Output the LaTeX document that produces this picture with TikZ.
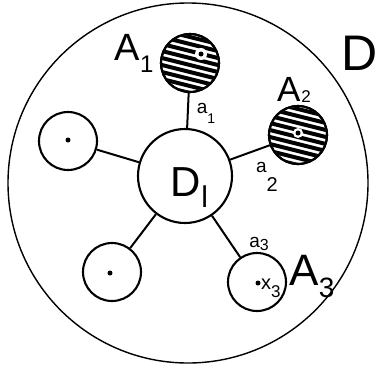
\documentclass[tikz,border=0pt]{standalone}
\usepackage{fontspec}
\setmainfont{Liberation Sans}
\newcommand\fs[1]{\fontsize{#1}{#1}\selectfont}
\tikzset{
  ln/.style={line width=2pt},
  circ/.style={circle, draw, line width=2.1pt, minimum size=58pt, inner sep=0pt},
  pt/.style={circle, fill, inner sep=0pt, minimum size=5pt},
  lbl/.style={inner sep=0pt, text depth=0pt},
  hatch/.style={line width=4pt},
}
\begin{document}
\begin{tikzpicture}[x=1pt,y=-1pt]
\useasboundingbox (0,0) rectangle (380,370);
% outer domain
\node[circle, draw, line width=1.4pt, minimum size=360pt, inner sep=0pt] (D) at (188,183) {};
% central domain
\node[circ, minimum size=94pt] (dl) at (185,176) {};
% subdomains
\node[circ] (a1) at (190,63) {};
\node[circ] (a2) at (298,135) {};
\node[circ] (a3) at (257,282) {};
\node[circ] (l1) at (68,141) {};
\node[circ] (l2) at (112,272) {};
% hatching
\begin{scope}
  \clip (190,63) circle (28pt);
  \foreach \i in {-50,-43,...,40} \draw[hatch, shift={(190,63)}] (-40,\i) -- ++(80,20);
\end{scope}
\begin{scope}
  \clip (298,135) circle (28pt);
  \foreach \i in {-50,-43,...,40} \draw[hatch, shift={(298,135)}] (-40,\i) -- ++(80,20);
\end{scope}
\node[circ] at (190,63) {};
\node[circ] at (298,135) {};
\fill[white] (201,54) circle (6pt);
\fill[white] (298,133) circle (5pt);
\node[pt] (x1) at (201,54) {};
\node[pt] (x2) at (298,133) {};
% dots
\node[pt] (p1) at (68,140) {};
\node[pt] (p2) at (110,273) {};
\node[pt] (x3) at (258,283) {};
% connectors
\draw[ln] (a1) -- (dl);
\draw[ln] (a2) -- (dl);
\draw[ln] (a3) -- (dl);
\draw[ln] (l1) -- (dl);
\draw[ln] (l2) -- (dl);
% labels
\node[lbl, font=\fs{50}] (tD) at (360,53) {D};
\node[lbl, font=\fs{42}] (tDl) at (189,182) {D\kern1pt\raisebox{-11pt}{\fs{30}l}};
\node[lbl, font=\fs{38}] (tA1) at (134,47) {A\raisebox{-12pt}{\fs{24}1}};
\node[lbl, font=\fs{35}] (tA2) at (294,89) {A\kern1pt\raisebox{-1pt}{\fs{17}2}};
\node[lbl, font=\fs{44}] (tA3) at (312,270) {A\raisebox{-12pt}{\fs{28}3}};
\node[lbl, font=\fs{19}] (ta1) at (206,108) {a\raisebox{-10pt}{\fs{14}1}};
\node[lbl, font=\fs{19}] (ta2) at (267,167) {a\raisebox{-19pt}{\fs{20}2}};
\node[lbl, font=\fs{19}] (ta3) at (259,242) {a\raisebox{-3pt}{\fs{16}3}};
\node[lbl, font=\fs{20}, anchor=west] (tx3) at (261,284) {x\raisebox{-8pt}{\fs{17}3}};
\end{tikzpicture}
\end{document}
